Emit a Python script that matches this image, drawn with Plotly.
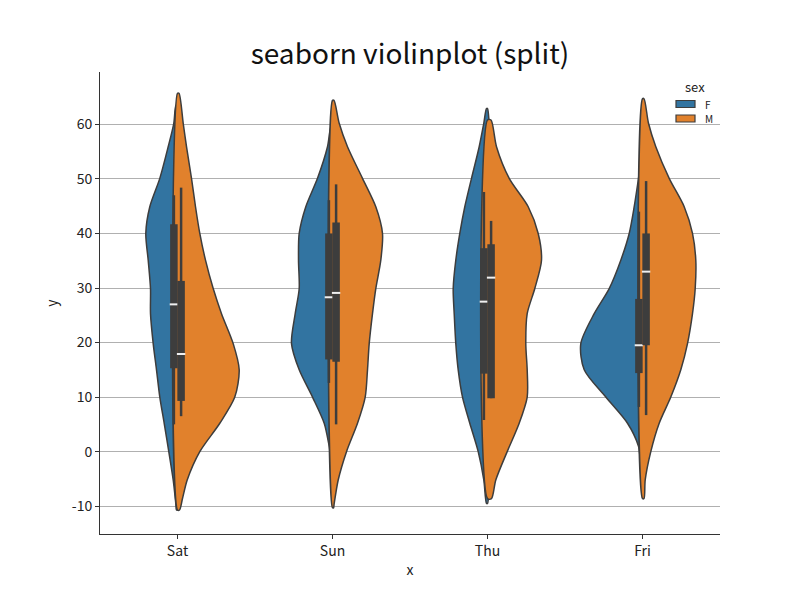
import plotly.graph_objects as go

DAYS = ["Sat", "Sun", "Thu", "Fri"]
SEXES = ["F", "M"]
Y_TICKS = [-10, 0, 10, 20, 30, 40, 50, 60]
Y_TICK_TEXT = ["-10", "0", "10", "20", "30", "40", "50", "60"]

# Density outlines: y levels and half-widths (pixels at 155 px per category)
SAT_F_Y = [63.5, 60.2, 55.9, 50.1, 44.9, 40, 35.1, 29.9, 25.3, 19.8, 15, 10, 5.2, 0, -5.2, -9.5, -10.7]
SAT_F_W = [1.5, 3.7, 9.3, 17.7, 27.7, 31.7, 29.3, 27, 27, 24.3, 21, 17.7, 13.3, 8.7, 4.3, 1.7, 1]
SAT_M_Y = [65.7, 60.2, 55.9, 50.1, 44.9, 40, 35.1, 29.9, 25.3, 19.8, 15, 10, 5.2, 0, -5.2, -8.6, -10.7]
SAT_M_W = [1.5, 5.7, 9, 14, 18, 22.3, 28, 35.7, 44, 55.7, 61.7, 57.3, 42.3, 22.3, 9.7, 5, 2]
SUN_F_Y = [59.5, 55.9, 50.1, 44.9, 40, 35.1, 29.9, 25.3, 19.8, 15, 10, 5.2, 1, -0.8]
SUN_F_W = [1.5, 5, 15, 26.7, 33.3, 34, 33.3, 37.3, 41, 33.3, 20, 8.3, 3.3, 1.5]
SUN_M_Y = [64.4, 60.2, 55.9, 50.1, 44.9, 40, 35.1, 29.9, 25.3, 19.8, 15, 10, 5.2, 0, -5.2, -9.5, -10.3]
SUN_M_W = [1.5, 6.7, 15, 30, 43.3, 50, 48.3, 43.3, 40, 36.7, 35, 32.7, 25, 14, 5.7, 1.7, 1]
THU_F_Y = [62.9, 60.2, 55.9, 50.1, 44.9, 40, 35.1, 29.9, 25.3, 19.8, 15, 10, 5.2, 0, -5.2, -9.5]
THU_F_W = [1, 3.7, 8.3, 16, 22.7, 27.7, 31.7, 34.3, 33.3, 31.7, 29.3, 25, 17.7, 9.3, 3.7, 1]
THU_M_Y = [60.8, 55.9, 50.1, 44.9, 40, 35.1, 29.9, 25.3, 19.8, 15, 10, 5.2, 0, -5.2, -8.6]
THU_M_W = [3.5, 9, 21.7, 40.7, 50.7, 54, 47.3, 39.7, 38.3, 39.7, 39.7, 31.7, 19.7, 8.3, 4]
FRI_F_Y = [54.0, 50.1, 44.9, 40, 35.1, 29.9, 25.3, 19.8, 15, 10, 5.2, 1, -1.8]
FRI_F_W = [1, 4, 8.3, 13.3, 21.7, 33.3, 48.3, 61.7, 58.3, 36.7, 15, 4, 1.5]
FRI_M_Y = [64.7, 60.2, 55.9, 50.1, 44.9, 40, 35.1, 29.9, 25.3, 19.8, 15, 10, 5.2, 0, -5.2, -8.6]
FRI_M_W = [1.5, 6, 13.3, 26.7, 41.7, 50, 53.3, 52.7, 50, 45, 38.3, 28.3, 16.7, 8.3, 2.7, 1.5]

# Box statistics per day (Sat, Sun, Thu, Fri)
F_Q1 = [15.3, 16.9, 14.3, 14.4]
F_MED = [27.0, 28.3, 27.5, 19.5]
F_Q3 = [41.7, 40.0, 37.3, 28.0]
F_WLO = [5.0, 12.6, 5.8, 8.2]
F_WHI = [47.0, 46.1, 47.6, 44.0]
M_Q1 = [9.3, 16.5, 9.8, 19.5]
M_MED = [17.9, 29.1, 31.9, 33.0]
M_Q3 = [31.3, 42.0, 38.0, 40.0]
M_WLO = [6.5, 5.0, 9.8, 6.7]
M_WHI = [48.4, 49.0, 42.3, 49.6]

OUTLINES = {
    ("Sat", "F"): (SAT_F_Y, SAT_F_W), ("Sat", "M"): (SAT_M_Y, SAT_M_W),
    ("Sun", "F"): (SUN_F_Y, SUN_F_W), ("Sun", "M"): (SUN_M_Y, SUN_M_W),
    ("Thu", "F"): (THU_F_Y, THU_F_W), ("Thu", "M"): (THU_M_Y, THU_M_W),
    ("Fri", "F"): (FRI_F_Y, FRI_F_W), ("Fri", "M"): (FRI_M_Y, FRI_M_W),
}
BOXES = {"F": (F_Q1, F_MED, F_Q3, F_WLO, F_WHI), "M": (M_Q1, M_MED, M_Q3, M_WLO, M_WHI)}

COLORS = {"F": "#3274A1", "M": "#E1812C"}
EDGE = "#3d3d3d"
PX = 1.0 / 155.0  # category units per pixel
FONT = "Noto Sans CJK JP"
TXT = "#222222"

fig = go.Figure()

for sex in SEXES:
    sign = -1 if sex == "F" else 1
    for i, day in enumerate(DAYS):
        ys, ws = OUTLINES[(day, sex)]
        xs = [i + sign * w * PX for w in ws]
        px_ = xs + [i, i, xs[0]]
        py_ = list(ys) + [ys[-1], ys[0], ys[0]]
        fig.add_trace(go.Scatter(
            x=px_, y=py_, mode="lines", fill="toself",
            fillcolor=COLORS[sex], line=dict(color=EDGE, width=1.5, shape="spline", smoothing=0.8),
            name=sex, showlegend=False, hoverinfo="skip"))

# inner boxes
for sex in SEXES:
    sign = -1 if sex == "F" else 1
    q1, med, q3, wlo, whi = BOXES[sex]
    for i in range(len(DAYS)):
        xc = i + sign * 3.6 * PX
        fig.add_trace(go.Scatter(x=[xc, xc], y=[wlo[i], whi[i]], mode="lines",
                                 line=dict(color=EDGE, width=2.5), showlegend=False, hoverinfo="skip"))
        fig.add_trace(go.Scatter(x=[xc, xc], y=[q1[i], q3[i]], mode="lines",
                                 line=dict(color=EDGE, width=7.5), showlegend=False, hoverinfo="skip"))
        fig.add_trace(go.Scatter(x=[xc], y=[med[i]], mode="markers",
                                 marker=dict(symbol="line-ew", size=6, line=dict(color="#f0f0f0", width=2)),
                                 showlegend=False, hoverinfo="skip"))

# manual legend (paper coordinates) in the top-right corner
W, H = 800, 600
L, R, T, B = 100, 80, 72, 66
def px2paper(xp, yp):
    return (xp - L) / (W - L - R), 1 - (yp - T) / (H - T - B)

shapes = []
annotations = []
lx, ly = px2paper(695, 87)
annotations.append(dict(x=lx, y=ly, xref="paper", yref="paper", text="sex", showarrow=False,
                        xanchor="center", yanchor="middle", font=dict(family=FONT, size=13, color=TXT)))
for k, sex in enumerate(SEXES):
    yc = 104 + 14.5 * k
    x0, y0 = px2paper(676, yc - 3.5)
    x1, y1 = px2paper(695, yc + 3.5)
    shapes.append(dict(type="rect", xref="paper", yref="paper", x0=x0, x1=x1, y0=y0, y1=y1,
                       fillcolor=COLORS[sex], line=dict(color=EDGE, width=1.2)))
    tx, ty = px2paper(703, yc)
    annotations.append(dict(x=tx, y=ty, xref="paper", yref="paper", text=sex, showarrow=False,
                            xanchor="left", yanchor="middle", font=dict(family=FONT, size=10, color=TXT)))

fig.update_layout(
    width=W, height=H,
    margin=dict(l=L, r=R, t=T, b=B),
    paper_bgcolor="white", plot_bgcolor="white",
    title=dict(text="seaborn violinplot (split)", x=0.5125, xanchor="center", y=0.91, yanchor="middle",
               font=dict(family=FONT, size=28, color="#111")),
    font=dict(family=FONT, color=TXT),
    showlegend=False,
    shapes=shapes,
    annotations=annotations,
    xaxis=dict(range=[-0.5, 3.5], tickmode="array", tickvals=list(range(len(DAYS))), ticktext=DAYS,
               showgrid=False, zeroline=False, showline=True, linecolor="#333", linewidth=1,
               ticks="outside", ticklen=4, tickcolor="#333", tickfont=dict(size=14, family=FONT, color=TXT),
               title=dict(text="x", font=dict(size=14, family=FONT, color=TXT), standoff=6)),
    yaxis=dict(range=[-15.1, 69.6], tickmode="array", tickvals=Y_TICKS, ticktext=Y_TICK_TEXT,
               showgrid=True, gridcolor="#b0b0b0", gridwidth=1, zeroline=False, showline=True,
               linecolor="#333", linewidth=1, ticks="outside", ticklen=4, tickcolor="#333",
               tickfont=dict(size=14, family=FONT, color=TXT),
               title=dict(text="y", font=dict(size=14, family=FONT, color=TXT), standoff=10)),
)

fig.write_html("out.html")
